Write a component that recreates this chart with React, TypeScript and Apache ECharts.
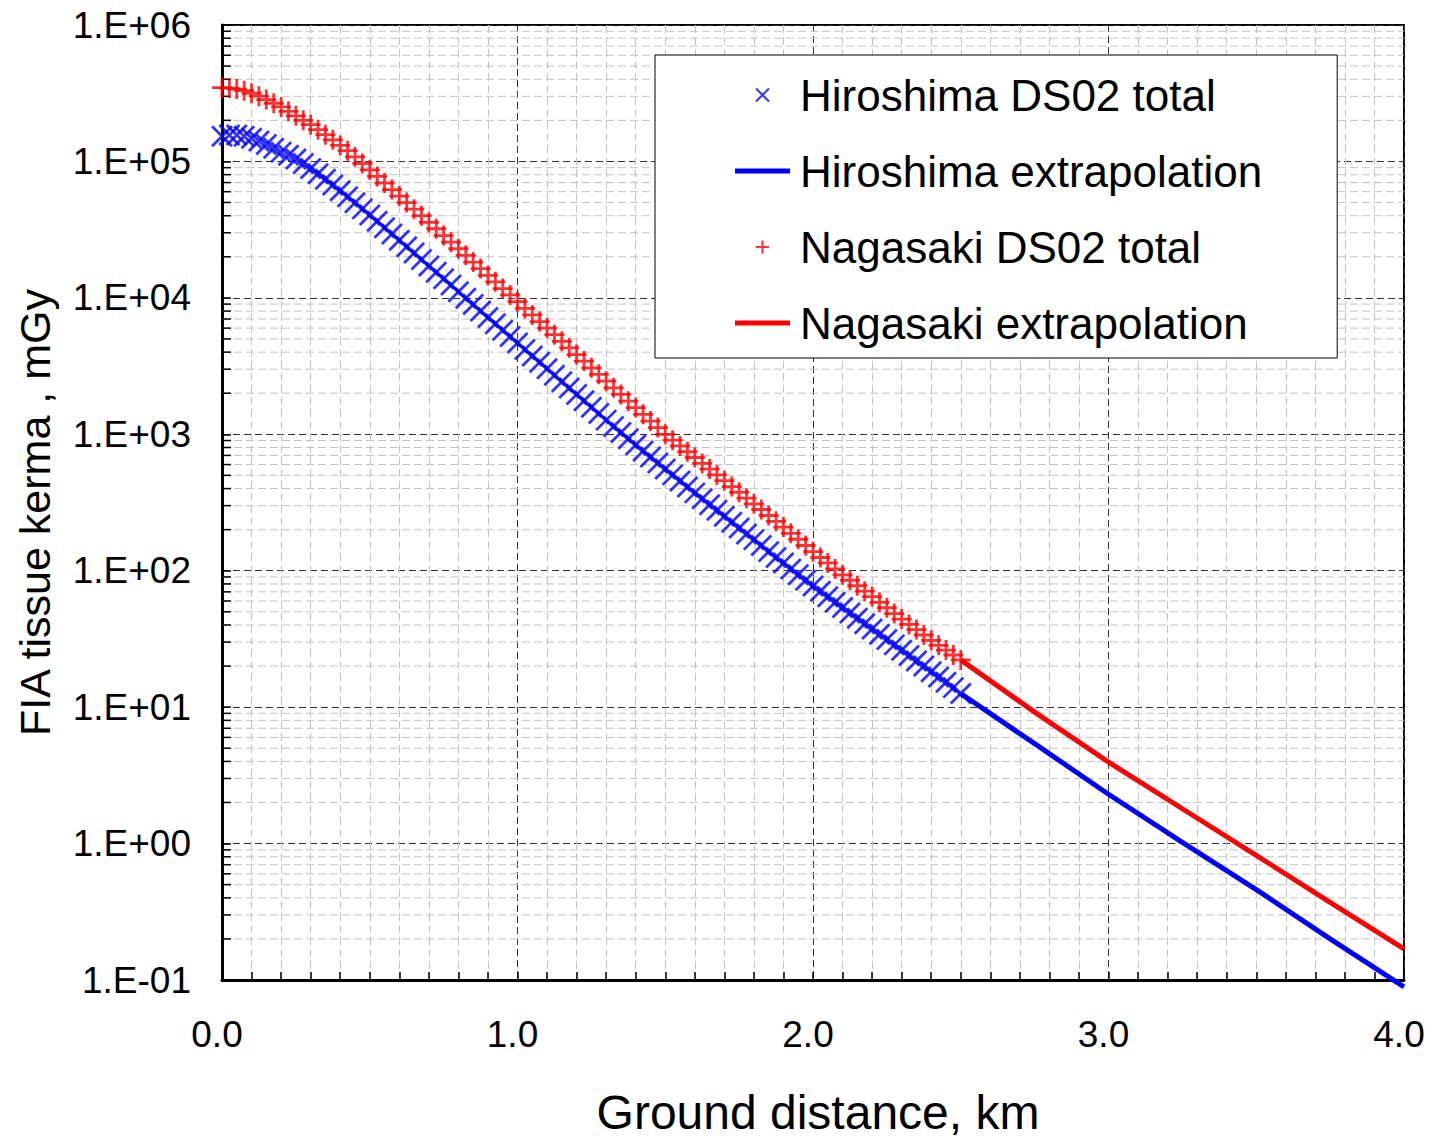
import React, { useEffect, useRef } from "react";
import * as echarts from "echarts";

const FONT = '"Liberation Sans", Arial, Helvetica, sans-serif';

// Ground distance (km) of the DS02 tabulated points
const distanceKm = [
  0.000, 0.025, 0.050, 0.075, 0.100, 0.125, 0.150, 0.175, 0.200, 0.225,
  0.250, 0.275, 0.300, 0.325, 0.350, 0.375, 0.400, 0.425, 0.450, 0.475,
  0.500, 0.525, 0.550, 0.575, 0.600, 0.625, 0.650, 0.675, 0.700, 0.725,
  0.750, 0.775, 0.800, 0.825, 0.850, 0.875, 0.900, 0.925, 0.950, 0.975,
  1.000, 1.025, 1.050, 1.075, 1.100, 1.125, 1.150, 1.175, 1.200, 1.225,
  1.250, 1.275, 1.300, 1.325, 1.350, 1.375, 1.400, 1.425, 1.450, 1.475,
  1.500, 1.525, 1.550, 1.575, 1.600, 1.625, 1.650, 1.675, 1.700, 1.725,
  1.750, 1.775, 1.800, 1.825, 1.850, 1.875, 1.900, 1.925, 1.950, 1.975,
  2.000, 2.025, 2.050, 2.075, 2.100, 2.125, 2.150, 2.175, 2.200, 2.225,
  2.250, 2.275, 2.300, 2.325, 2.350, 2.375, 2.400, 2.425, 2.450, 2.475,
  2.500,
];

// FIA tissue kerma, mGy
const hiroshimaDS02 = [
  1.53e5, 1.56e5, 1.56e5, 1.53e5, 1.48e5, 1.41e5, 1.33e5, 1.25e5, 1.17e5, 1.11e5,
  1.04e5, 9.66e4, 8.87e4, 8.13e4, 7.41e4, 6.73e4, 6.10e4, 5.51e4, 4.98e4, 4.49e4,
  4.05e4, 3.64e4, 3.27e4, 2.94e4, 2.64e4, 2.37e4, 2.13e4, 1.91e4, 1.71e4, 1.54e4,
  1.38e4, 1.24e4, 1.11e4, 9.95e3, 8.93e3, 8.02e3, 7.19e3, 6.46e3, 5.79e3, 5.20e3,
  4.66e3, 4.18e3, 3.75e3, 3.37e3, 3.02e3, 2.71e3, 2.43e3, 2.18e3, 1.96e3, 1.76e3,
  1.58e3, 1.42e3, 1.27e3, 1.14e3, 1.03e3, 927, 836, 755, 682, 617,
  557, 504, 455, 411, 372, 337, 305, 277, 251, 227,
  206, 186, 169, 153, 138, 125, 114, 103, 93.5, 85.1,
  77.4, 70.6, 64.4, 58.7, 53.7, 49.0, 44.8, 40.9, 37.4, 34.2,
  31.3, 28.6, 26.1, 23.9, 21.8, 20.0, 18.2, 16.6, 15.2, 13.9,
  12.6,
];

const nagasakiDS02 = [
  3.47e5, 3.45e5, 3.39e5, 3.30e5, 3.16e5, 3.01e5, 2.84e5, 2.67e5, 2.51e5, 2.33e5,
  2.16e5, 2.00e5, 1.86e5, 1.71e5, 1.57e5, 1.44e5, 1.31e5, 1.20e5, 1.08e5, 9.66e4,
  8.67e4, 7.76e4, 6.95e4, 6.22e4, 5.57e4, 4.99e4, 4.47e4, 4.00e4, 3.58e4, 3.21e4,
  2.86e4, 2.56e4, 2.29e4, 2.05e4, 1.83e4, 1.64e4, 1.46e4, 1.31e4, 1.17e4, 1.05e4,
  9.38e3, 8.37e3, 7.50e3, 6.70e3, 6.00e3, 5.37e3, 4.80e3, 4.30e3, 3.84e3, 3.44e3,
  3.07e3, 2.75e3, 2.45e3, 2.19e3, 1.96e3, 1.75e3, 1.57e3, 1.40e3, 1.25e3, 1.12e3,
  1.00e3, 906, 822, 745, 676, 612, 556, 504, 457, 414,
  376, 340, 309, 281, 254, 230, 209, 188, 170, 153,
  138, 125, 114, 103, 93.3, 85.1, 77.6, 70.8, 64.6, 58.7,
  53.5, 48.5, 44.2, 40.4, 37.0, 33.8, 30.9, 28.4, 26.2, 24.1,
  22.2,
];

// Extrapolation beyond 2.5 km
const extrapDistanceKm = [2.5, 2.75, 3.0, 3.25, 3.5, 3.75, 4.0];
const hiroshimaExtrap = [12.6, 5.4, 2.3, 1.02, 0.46, 0.2, 0.089];
const nagasakiExtrap = [22.2, 9.2, 3.96, 1.8, 0.82, 0.37, 0.169];

const seriesNames = [
  "Hiroshima DS02 total",
  "Hiroshima extrapolation",
  "Nagasaki DS02 total",
  "Nagasaki extrapolation",
];

const xTickLabels = ["0.0", "1.0", "2.0", "3.0", "4.0"];
const yTickLabels = ["1.E-01", "1.E+00", "1.E+01", "1.E+02", "1.E+03", "1.E+04", "1.E+05", "1.E+06"];
const yDecades = [0.1, 1, 10, 100, 1000, 10000, 100000];
const minorMultipliers = [2, 3, 4, 5, 6, 7, 8, 9];

const BLUE = "#0000ff";
const RED = "#ff0000";
const CROSS = "path://M0,0L10,10M10,0L0,10";
const PLUS = "path://M5,0L5,10M0,5L10,5";
const BAR = "path://M0,0L55,0L55,5L0,5Z";

export default function App() {
  const ref = useRef<HTMLDivElement>(null);

  useEffect(() => {
    if (!ref.current) return;
    const chart = echarts.init(ref.current, null, { renderer: "svg" });

    const minorY: number[][] = [];
    yDecades.forEach((d) => minorMultipliers.forEach((m) => minorY.push([0, d * m])));

    const option: any = {
      animation: false,
      backgroundColor: "#ffffff",
      grid: {
        left: 222,
        right: 27,
        top: 25,
        bottom: 162,
        show: true,
        borderColor: "#000",
        borderWidth: 2,
        backgroundColor: "#fff",
        containLabel: false,
      },
      legend: {
        data: [
          { name: seriesNames[0], icon: CROSS, itemStyle: { color: BLUE, borderColor: BLUE, borderWidth: 2 } },
          { name: seriesNames[1], icon: BAR, itemStyle: { color: BLUE, borderWidth: 0 } },
          { name: seriesNames[2], icon: PLUS, itemStyle: { color: RED, borderColor: RED, borderWidth: 2 } },
          { name: seriesNames[3], icon: BAR, itemStyle: { color: RED, borderWidth: 0 } },
        ],
        orient: "vertical",
        left: 655,
        top: 55,
        padding: [15, 75, 10, 80],
        itemWidth: 55,
        itemHeight: 13,
        itemGap: 26,
        selectedMode: false,
        backgroundColor: "#fff",
        borderColor: "#000",
        borderWidth: 1,
        borderRadius: 0,
        textStyle: {
          fontSize: 44,
          lineHeight: 50,
          fontFamily: FONT,
          color: "#000",
          padding: [0, 0, 0, 5],
        },
        z: 10,
      },
      xAxis: {
        type: "value",
        min: 0,
        max: 4,
        interval: 1,
        name: "Ground distance, km",
        nameLocation: "middle",
        nameGap: 108,
        nameTextStyle: { fontSize: 48, fontFamily: FONT, color: "#000", padding: [0, 0, 0, 10] },
        axisLine: { show: true, lineStyle: { color: "#000", width: 3 } },
        axisTick: { show: true, inside: true, length: 8, lineStyle: { color: "#000", width: 1.5 } },
        minorTick: { show: true, splitNumber: 10, length: 8, lineStyle: { color: "#000", width: 1.5 } },
        splitLine: { show: true, lineStyle: { color: "#333", type: [7, 4], width: 1 } },
        minorSplitLine: { show: true, lineStyle: { color: "#c4c4c4", type: [8, 4], width: 1 } },
        axisLabel: {
          fontSize: 37,
          fontFamily: FONT,
          color: "#000",
          margin: 36,
          padding: [0, 10, 0, 0],
          formatter: (v: number) => xTickLabels[Math.round(v)] ?? "",
        },
      },
      yAxis: {
        type: "log",
        logBase: 10,
        min: 0.1,
        max: 1e6,
        splitNumber: 7,
        name: "FIA tissue kerma , mGy",
        nameLocation: "middle",
        nameGap: 166,
        nameTextStyle: { fontSize: 43, fontFamily: FONT, color: "#000", padding: [0, 20, 0, 0] },
        axisLine: { show: true, lineStyle: { color: "#000", width: 3 } },
        axisTick: { show: true, inside: true, length: 9, lineStyle: { color: "#000", width: 1.5 } },
        minorTick: { show: false },
        splitLine: { show: true, lineStyle: { color: "#333", type: [7, 4], width: 1 } },
        axisLabel: {
          fontSize: 37,
          fontFamily: FONT,
          color: "#000",
          margin: 31,
          formatter: (v: number) => yTickLabels[Math.round(Math.log10(v)) + 1] ?? "",
        },
      },
      series: [
        {
          type: "custom",
          name: "_minorGrid",
          silent: true,
          z: 1,
          clip: false,
          encode: { x: 0, y: 1 },
          data: minorY,
          renderItem: (params: any, api: any) => {
            const p = api.coord([0, api.value(1)]);
            const cs = params.coordSys;
            return {
              type: "group",
              children: [
                {
                  type: "line",
                  shape: { x1: cs.x, y1: p[1], x2: cs.x + cs.width, y2: p[1] },
                  style: { stroke: "#c4c4c4", lineWidth: 1, lineDash: [8, 4] },
                },
                {
                  type: "line",
                  shape: { x1: cs.x, y1: p[1], x2: cs.x + 9, y2: p[1] },
                  style: { stroke: "#000", lineWidth: 1.5 },
                },
              ],
            };
          },
        },
        {
          type: "scatter",
          name: seriesNames[0],
          data: distanceKm.map((d, i) => [d, hiroshimaDS02[i]]),
          symbol: CROSS,
          symbolSize: 20,
          itemStyle: { color: BLUE, borderColor: BLUE, borderWidth: 2.8 },
          z: 3,
          clip: false,
        },
        {
          type: "line",
          name: seriesNames[1],
          data: extrapDistanceKm.map((d, i) => [d, hiroshimaExtrap[i]]),
          symbol: "none",
          showSymbol: false,
          lineStyle: { color: BLUE, width: 5 },
          itemStyle: { color: BLUE },
          z: 2,
          clip: false,
        },
        {
          type: "scatter",
          name: seriesNames[2],
          data: distanceKm.map((d, i) => [d, nagasakiDS02[i]]),
          symbol: PLUS,
          symbolSize: 20,
          itemStyle: { color: RED, borderColor: RED, borderWidth: 2.8 },
          z: 3,
          clip: false,
        },
        {
          type: "line",
          name: seriesNames[3],
          data: extrapDistanceKm.map((d, i) => [d, nagasakiExtrap[i]]),
          symbol: "none",
          showSymbol: false,
          lineStyle: { color: RED, width: 5 },
          itemStyle: { color: RED },
          z: 2,
          clip: false,
        },
      ],
    };

    chart.setOption(option);
    return () => chart.dispose();
  }, []);

  return (
    <div
      ref={ref}
      style={{ position: "absolute", left: 0, top: 0, width: 1431, height: 1142, background: "#fff" }}
    />
  );
}
